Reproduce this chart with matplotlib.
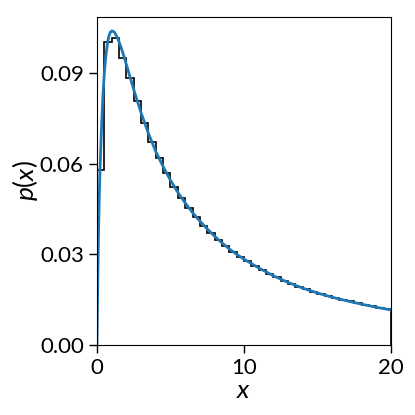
import matplotlib
matplotlib.use("Agg")
import matplotlib.pyplot as plt

# Histogram (bin edges and heights)
bin_edges = [0.0, 0.5, 1.0, 1.5, 2.0, 2.5, 3.0, 3.5, 4.0, 4.5, 5.0, 5.5, 6.0, 6.5, 7.0,
             7.5, 8.0, 8.5, 9.0, 9.5, 10.0, 10.5, 11.0, 11.5, 12.0, 12.5, 13.0, 13.5,
             14.0, 14.5, 15.0, 15.5, 16.0, 16.5, 17.0, 17.5, 18.0, 18.5, 19.0, 19.5, 20.0]
hist_heights = [0.0580, 0.1003, 0.1014, 0.0950, 0.0882, 0.0807, 0.0735, 0.0673, 0.0617,
                0.0568, 0.0522, 0.0486, 0.0453, 0.0423, 0.0393, 0.0370, 0.0348, 0.0326,
                0.0309, 0.0292, 0.0277, 0.0262, 0.0249, 0.0236, 0.0224, 0.0213, 0.0203,
                0.0193, 0.0185, 0.0176, 0.0169, 0.0162, 0.0156, 0.0149, 0.0144, 0.0138,
                0.0133, 0.0128, 0.0123, 0.0118]

# Density curve
curve_x = [0, 0.02, 0.05, 0.1, 0.15, 0.2, 0.3, 0.4, 0.5, 0.6, 0.7, 0.8, 0.9, 1.0, 1.1, 1.2,
           1.4, 1.6, 1.8, 2.0, 2.5, 3.0, 3.5, 4.0, 4.5, 5.0, 5.5, 6.0, 6.5, 7.0, 7.5, 8.0,
           8.5, 9.0, 9.5, 10, 11, 12, 13, 14, 15, 16, 17, 18, 19, 20]
curve_p = [0.0, 0.008, 0.020, 0.036, 0.048, 0.057, 0.071, 0.082, 0.090, 0.0955, 0.0993,
           0.1020, 0.1034, 0.1039, 0.1038, 0.1034, 0.1016, 0.0990, 0.0960, 0.0928, 0.0845,
           0.0768, 0.0700, 0.0640, 0.0590, 0.0545, 0.0505, 0.0470, 0.0438, 0.0410, 0.0384,
           0.0360, 0.0338, 0.0318, 0.0300, 0.0284, 0.0255, 0.0229, 0.0207, 0.0188, 0.0172,
           0.0158, 0.0146, 0.0135, 0.0125, 0.0116]

x_ticks = [0, 10, 20]
y_ticks = [0.00, 0.03, 0.06, 0.09]
y_tick_labels = ["0.00", "0.03", "0.06", "0.09"]

plt.rcParams['font.family'] = ['Lato', 'DejaVu Sans']
plt.rcParams['mathtext.fontset'] = 'custom'
plt.rcParams['mathtext.rm'] = 'Lato'
plt.rcParams['mathtext.it'] = 'Lato:italic'

fig = plt.figure(figsize=(4.15, 4.15), dpi=100)
ax = fig.add_axes([0.2337, 0.1687, 0.942 - 0.2337, 0.959 - 0.1687])

ax.stairs(hist_heights, bin_edges, color='black', linewidth=1.2)
ax.plot(curve_x, curve_p, color='#1f77b4', linewidth=2.0)

ax.set_xlim(0, 20)
ax.set_ylim(0, 0.1085)
ax.set_xticks(x_ticks)
ax.set_yticks(y_ticks)
ax.set_yticklabels(y_tick_labels)
ax.tick_params(labelsize=16, length=6, width=1)
ax.set_xlabel(r"$x$", fontsize=19, labelpad=0)
ax.set_ylabel(r"$p(x)$", fontsize=19, labelpad=0)

fig.savefig("out.png", dpi=100)
